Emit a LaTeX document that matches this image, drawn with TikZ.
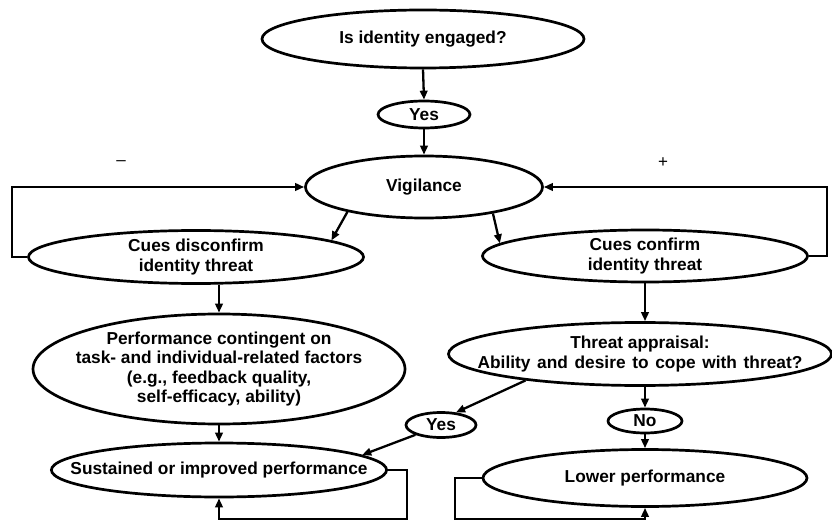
\documentclass[tikz,border=0pt]{standalone}
\usepackage{fontspec}
\setmainfont{Liberation Sans}
\usetikzlibrary{shapes.geometric,arrows.meta}
\begin{document}
\begin{tikzpicture}[x=1pt,y=-1pt,
  box/.style={ellipse,draw,line width=2.7pt,inner xsep=-30pt,inner ysep=-10pt,align=center,
    font=\fontsize{17.3}{19.6}\selectfont\bfseries},
  arr/.style={line width=2.3pt,-{Triangle[length=9pt,width=7.5pt]}},
  sign/.style={font=\fontsize{17}{19.5}\selectfont,inner sep=0pt}]
\useasboundingbox (0,0) rectangle (832,521);
\node[box,minimum width=322pt,minimum height=58pt] (top) at (423,39) {Is identity engaged?};
\node[box,minimum width=92pt,minimum height=27pt] (yes1) at (424,114.5) {Yes};
\node[box,minimum width=237pt,minimum height=62pt] (vig) at (424,187) {Vigilance};
\node[box,minimum width=335pt,minimum height=53pt] (cuesd) at (196,257) {Cues disconfirm\\identity threat};
\node[box,minimum width=325pt,minimum height=52pt] (cuesc) at (645,256) {Cues confirm\\identity threat};
\node[box,minimum width=372pt,minimum height=110pt] (perf) at (219,369) {Performance contingent on\\task- and individual-related factors\\(e.g., feedback quality,\\self-efficacy, ability)};
\node[box,minimum width=383pt,minimum height=63pt] (threat) at (640,354) {Threat appraisal:\\{\spaceskip=6.7pt Ability and desire to cope with threat?}};
\node[box,minimum width=70pt,minimum height=25pt] (yes2) at (441,425) {Yes};
\node[box,minimum width=74pt,minimum height=24pt] (no) at (645,421) {No};
\node[box,minimum width=322pt,minimum height=54pt] (sust) at (219,470) {Sustained or improved performance};
\node[box,minimum width=324pt,minimum height=57pt] (lower) at (645,478) {Lower performance};
\node[sign] (minus) at (121,163) {–};
\node[sign] (plus) at (663,163) {+};
\coordinate (lx) at (12,0);
\coordinate (rx) at (827,0);
\coordinate (sx) at (407,519);
\coordinate (lx2) at (455,519);
\draw[arr] (top.south) -- (yes1.north);
\draw[arr] (yes1.south) -- (vig.north);
\draw[arr] (vig.-162) -- (cuesd.7);
\draw[arr] (vig.-21) -- (cuesc.175);
\draw[arr] (cuesd.west) -- (cuesd.west -| lx) |- (vig.west);
\draw[arr] (cuesc.east) -- (cuesc.east -| rx) |- (vig.east);
\draw[arr] (perf.north |- cuesd.south) -- (perf.north);
\draw[arr] (cuesc.south) -- (cuesc.south |- threat.north);
\draw[arr] (threat.193) -- (yes2.40);
\draw[arr] (yes2.201) -- (sust.6);
\draw[arr] (no.north |- threat.south) -- (no.north);
\draw[arr] (no.south) -- (lower.north);
\draw[arr] (perf.south) -- (sust.north);
\draw[arr] (sust.east) -| (sx) -| (sust.south);
\draw[arr] (lower.west) -| (lx2) -| (lower.south);
\end{tikzpicture}
\end{document}
